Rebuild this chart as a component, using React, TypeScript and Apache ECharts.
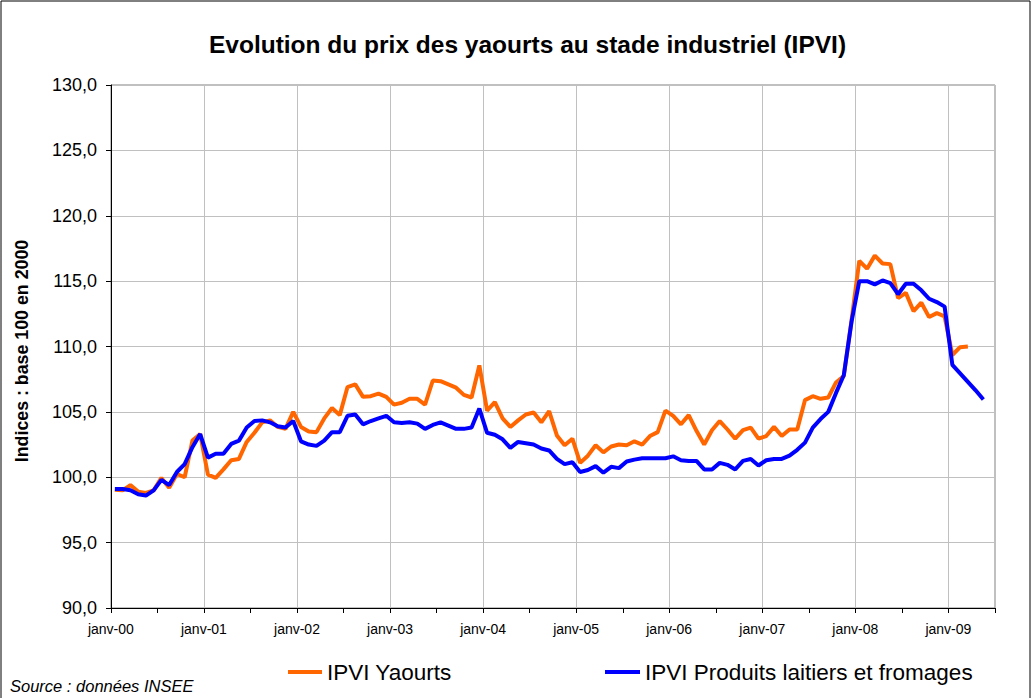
import React, { useEffect, useRef } from 'react';
import * as echarts from 'echarts';

const MONTHS = ['janv', 'févr', 'mars', 'avr', 'mai', 'juin', 'juil', 'août', 'sept', 'oct', 'nov', 'déc'];
const YEARS = ['00', '01', '02', '03', '04', '05', '06', '07', '08', '09'];
const MONTH_COUNT = 114; // janv-00 .. juin-09
const categories = YEARS.flatMap((y) => MONTHS.map((m) => `${m}-${y}`)).slice(0, MONTH_COUNT);

const TITLE = 'Evolution du prix des yaourts au stade industriel (IPVI)';
const Y_NAME = 'Indices : base 100 en 2000';
const SOURCE = 'Source : données INSEE';
const SERIES_NAMES = ['IPVI Yaourts', 'IPVI Produits laitiers et fromages'];

// IPVI Yaourts (janv-00 .. mars-09)
const yaourts = [
  99.05, 99.0, 99.4, 98.9, 98.8, 99.0, 99.95, 99.2, 100.25, 100.0, 102.8, 103.3,
  100.2, 99.95, 100.6, 101.3, 101.4, 102.7, 103.4, 104.2, 104.35, 103.85, 103.7, 105.0,
  103.85, 103.5, 103.45, 104.5, 105.3, 104.75, 106.9, 107.1, 106.15, 106.2, 106.4, 106.15,
  105.55, 105.7, 106.0, 106.0, 105.55, 107.4, 107.35, 107.1, 106.85, 106.3, 106.1, 108.55,
  105.1, 105.75, 104.5, 103.85, 104.35, 104.8, 104.95, 104.2, 105.05, 103.2, 102.45, 102.95,
  101.1, 101.65, 102.45, 101.9, 102.35, 102.5, 102.45, 102.75, 102.5, 103.15, 103.45, 105.1,
  104.7, 104.05, 104.75, 103.55, 102.5, 103.6, 104.3, 103.65, 102.95, 103.6, 103.8, 102.95,
  103.15, 103.85, 103.15, 103.65, 103.65, 105.9, 106.2, 106.0, 106.1, 107.25, 107.75, 112.0,
  116.55, 115.95, 116.95, 116.35, 116.3, 113.7, 114.1, 112.7, 113.35, 112.25, 112.55, 112.3,
  109.35, 109.95, 110.0,
];

// IPVI Produits laitiers et fromages (janv-00 .. mai-09)
const produitsLaitiers = [
  99.1, 99.1, 99.0, 98.7, 98.6, 99.0, 99.8, 99.4, 100.4, 101.0, 102.3, 103.3,
  101.5, 101.8, 101.8, 102.55, 102.8, 103.8, 104.3, 104.35, 104.2, 103.9, 103.8, 104.3,
  102.75, 102.5, 102.4, 102.8, 103.45, 103.45, 104.7, 104.8, 104.05, 104.3, 104.5, 104.7,
  104.2, 104.15, 104.2, 104.1, 103.7, 104.0, 104.2, 103.95, 103.7, 103.7, 103.8, 105.25,
  103.4, 103.25, 102.9, 102.25, 102.7, 102.6, 102.5, 102.2, 102.05, 101.4, 101.0, 101.15,
  100.4, 100.55, 100.85, 100.35, 100.8, 100.7, 101.2, 101.35, 101.45, 101.45, 101.45, 101.45,
  101.6, 101.3, 101.25, 101.25, 100.6, 100.6, 101.1, 100.95, 100.6, 101.25, 101.4, 100.9,
  101.3, 101.4, 101.4, 101.65, 102.1, 102.65, 103.8, 104.45, 105.0, 106.45, 107.8, 111.9,
  115.0, 115.0, 114.75, 115.05, 114.85, 114.0, 114.8, 114.8, 114.3, 113.65, 113.4, 113.05,
  108.6, 107.95, 107.3, 106.65, 105.95,
];

const Y_MIN = 90;
const Y_MAX = 130;
const Y_STEP = 5;

const FONT = 'Arial, "Liberation Sans", sans-serif';
const ORANGE = '#FF6600';
const BLUE = '#0000FF';

export default function App() {
  const ref = useRef<HTMLDivElement>(null);

  useEffect(() => {
    if (!ref.current) return;
    const chart = echarts.init(ref.current, undefined, { renderer: 'svg' });
    chart.setOption({
      animation: false,
      backgroundColor: '#ffffff',
      textStyle: { fontFamily: FONT },
      grid: {
        left: 111,
        right: 40,
        top: 85,
        bottom: 90,
        show: true,
        borderColor: '#808080',
        borderWidth: 1,
        containLabel: false,
      },
      xAxis: {
        type: 'category',
        data: categories,
        boundaryGap: true,
        axisLine: { show: true, lineStyle: { color: '#000000', width: 1 } },
        axisTick: { show: true, interval: 5, length: 5, lineStyle: { color: '#000000' } },
        axisLabel: {
          interval: 11,
          margin: 14,
          color: '#000000',
          fontSize: 14,
          fontFamily: FONT,
          padding: [0, 8, 0, 0],
        },
        splitLine: { show: true, interval: 11, lineStyle: { color: '#c0c0c0', width: 1 } },
      },
      yAxis: {
        type: 'value',
        min: Y_MIN,
        max: Y_MAX,
        interval: Y_STEP,
        axisLine: { show: true, lineStyle: { color: '#000000', width: 1 } },
        axisTick: { show: true, length: 5, lineStyle: { color: '#000000' } },
        axisLabel: {
          margin: 14,
          color: '#000000',
          fontSize: 18,
          fontFamily: FONT,
          formatter: (v: number) => v.toFixed(1).replace('.', ','),
        },
        splitLine: { show: true, lineStyle: { color: '#c0c0c0', width: 1 } },
      },
      legend: [
        {
          data: [SERIES_NAMES[0]],
          left: 288,
          top: 660,
          padding: 0,
          icon: 'rect',
          itemWidth: 34,
          itemHeight: 4,
          textStyle: { fontSize: 22.5, fontFamily: FONT, color: '#000000', lineHeight: 24 },
        },
        {
          data: [SERIES_NAMES[1]],
          left: 605,
          top: 660,
          padding: 0,
          icon: 'rect',
          itemWidth: 35,
          itemHeight: 4,
          textStyle: { fontSize: 22.5, fontFamily: FONT, color: '#000000', lineHeight: 24 },
        },
      ],
      graphic: [
        {
          type: 'rect',
          silent: true,
          shape: { x: 1, y: 1, width: 1029, height: 720 },
          style: { fill: 'none', stroke: '#000000', lineWidth: 1 },
          z: -1,
        },
        {
          type: 'text',
          x: 527.5,
          y: 44,
          style: {
            text: TITLE,
            fontSize: 24.5,
            fontWeight: 'bold',
            fontFamily: FONT,
            fill: '#000000',
            align: 'center',
            verticalAlign: 'middle',
          },
        },
        {
          type: 'text',
          x: 22,
          y: 351,
          rotation: Math.PI / 2,
          style: {
            text: Y_NAME,
            fontSize: 17.8,
            fontWeight: 'bold',
            fontFamily: FONT,
            fill: '#000000',
            align: 'center',
            verticalAlign: 'middle',
          },
        },
        {
          type: 'text',
          x: 10,
          y: 686,
          style: {
            text: SOURCE,
            fontSize: 16.5,
            fontStyle: 'italic',
            fontFamily: FONT,
            fill: '#000000',
            align: 'left',
            verticalAlign: 'middle',
          },
        },
      ],
      series: [
        {
          name: SERIES_NAMES[0],
          type: 'line',
          data: yaourts,
          showSymbol: false,
          symbol: 'none',
          lineStyle: { color: ORANGE, width: 4 },
          itemStyle: { color: ORANGE },
        },
        {
          name: SERIES_NAMES[1],
          type: 'line',
          data: produitsLaitiers,
          showSymbol: false,
          symbol: 'none',
          lineStyle: { color: BLUE, width: 4 },
          itemStyle: { color: BLUE },
        },
      ],
    });
    return () => chart.dispose();
  }, []);

  return (
    <div
      ref={ref}
      style={{ position: 'fixed', left: 0, top: 0, width: 1035, height: 698 }}
    />
  );
}
